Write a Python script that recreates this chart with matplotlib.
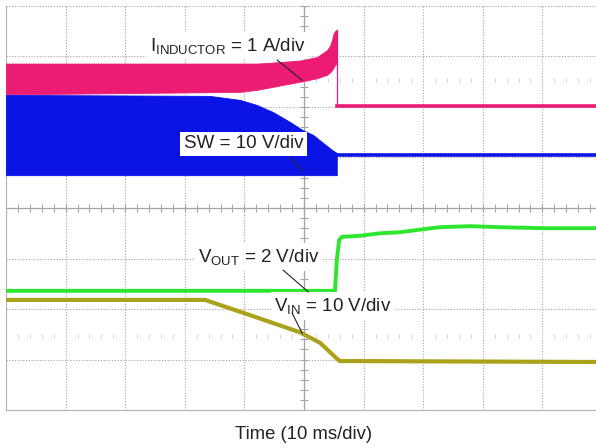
import matplotlib
matplotlib.use("Agg")
import matplotlib.pyplot as plt
import numpy as np

plt.rcParams['font.family'] = ['Liberation Sans', 'DejaVu Sans']
plt.rcParams['mathtext.default'] = 'regular'

# ---- data (time in ms, 10 ms/div; amplitude in screen divisions 0..8) ----
# Inductor current switching band (envelopes) before shutdown
ind_t = [0, 39.3, 42.1, 44.8, 49.3, 49.8, 52.2, 53.9, 54.4, 54.7, 55.0, 55.2, 55.4, 55.5]
ind_hi = [6.86, 6.86, 6.86, 6.88, 6.92, 6.93, 6.99, 7.13, 7.22, 7.33, 7.47, 7.50, 7.52, 7.52]
ind_lo = [6.25, 6.30, 6.34, 6.40, 6.50, 6.51, 6.57, 6.64, 6.69, 6.73, 6.79, 6.83, 6.85, 6.85]
# Inductor current after shutdown
ind_post_t = [55.5, 100.0]
ind_post = [6.02, 6.02]

# SW node switching band (envelopes) before shutdown
sw_t = [0, 34.2, 39.3, 42.1, 44.8, 47.7, 49.8, 51.5, 53.2, 54.7, 55.5]
sw_hi = [6.24, 6.22, 6.14, 6.04, 5.90, 5.70, 5.54, 5.45, 5.29, 5.15, 5.09]
sw_lo = [4.65, 4.65, 4.65, 4.65, 4.65, 4.65, 4.65, 4.65, 4.65, 4.65, 4.65]
sw_post_t = [55.5, 100.0]
sw_post = [5.04, 5.04]

# Output voltage
vout_t = [0, 55.2, 55.5, 55.9, 56.4, 59.4, 62.8, 66.1, 70.0, 72.8, 77.9, 82.9, 90.1, 100.0]
vout = [2.36, 2.36, 2.97, 3.37, 3.43, 3.45, 3.50, 3.52, 3.58, 3.62, 3.64, 3.62, 3.60, 3.60]

# Input voltage
vin_t = [0, 33.4, 40.9, 49.3, 52.7, 55.4, 56.0, 100.0]
vin = [2.18, 2.18, 1.88, 1.54, 1.33, 1.03, 0.97, 0.95]

C_IND = '#EC1C74'
C_SW = '#0A14E4'
C_VOUT = '#2EE62E'
C_VIN = '#ABA21B'
C_GRID = '#a4a4a4'

fig = plt.figure(figsize=(5.96, 4.48), dpi=100)
ax = fig.add_axes([6 / 596, (448 - 410) / 448, 596 / 596, 404 / 448])
ax.set_xlim(0, 100)
ax.set_ylim(0, 8)

# grid
ax.set_xticks(np.arange(0, 101, 10))
ax.set_yticks(np.arange(0, 9, 1))
ax.tick_params(length=0, labelbottom=False, labelleft=False)
ax.grid(True, linestyle=(0, (1, 1.5)), color=C_GRID, linewidth=0.8)
ax.set_axisbelow(True)
for s in ['top', 'right']:
    ax.spines[s].set_visible(False)
for s in ['left', 'bottom']:
    ax.spines[s].set_color('#b4b4b4')
    ax.spines[s].set_linewidth(0.8)

# center cross with ticks
ax.axhline(4, color=C_GRID, lw=0.9, zorder=1)
ax.axvline(50, color=C_GRID, lw=0.9, zorder=1)
mx = np.arange(0, 100.1, 2)
my = np.arange(0, 8.01, 0.2)
ax.plot(mx, np.full_like(mx, 4.0), ls='none', marker='|', ms=6, mew=0.8, color=C_GRID, zorder=1)
ax.plot(np.full_like(my, 50.0), my, ls='none', marker='_', ms=6, mew=0.8, color=C_GRID, zorder=1)
# faint marker rows
for yy in (6.53, 1.47):
    ax.plot(mx, np.full_like(mx, yy), ls='none', marker='|', ms=3, mew=0.7, color='#d2d2d2', zorder=1)

# traces
ax.fill_between(ind_t, ind_lo, ind_hi, color=C_IND, lw=0.6, edgecolor=C_IND, zorder=3)
ax.plot([ind_t[-1], ind_t[-1]], [ind_post[0], ind_hi[-1]], color=C_IND, lw=0.9, zorder=3)
ax.plot(ind_post_t, ind_post, color=C_IND, lw=2.6, zorder=3)

ax.fill_between(sw_t, sw_lo, sw_hi, color=C_SW, lw=0.6, edgecolor=C_SW, zorder=4)
ax.plot(sw_post_t, sw_post, color=C_SW, lw=2.6, zorder=4)

ax.plot(vout_t, vout, color=C_VOUT, lw=2.8, zorder=4)
ax.plot(vin_t, vin, color=C_VIN, lw=3.0, zorder=4)

# labels
fs = 13.5
box = dict(facecolor='white', edgecolor='none', pad=2.5)
ax.text(50.3, 7.21, 'I$_{INDUCTOR}$ = 1 A/div', ha='right', va='center', fontsize=fs,
        color='#222222', bbox=box, zorder=5)
ax.text(49.9, 5.27, 'SW = 10 V/div', ha='right', va='center', fontsize=fs,
        color='#222222', bbox=box, zorder=5)
ax.text(52.6, 3.03, 'V$_{OUT}$ = 2 V/div', ha='right', va='center', fontsize=fs,
        color='#222222', bbox=box, zorder=5)
ax.text(64.7, 2.06, 'V$_{IN}$ = 10 V/div', ha='right', va='center', fontsize=fs,
        color='#222222', bbox=box, zorder=5)

# leader lines
for (x0, y0, x1, y1) in [(45.5, 6.93, 49.7, 6.53), (47.7, 4.99, 49.7, 4.75),
                         (46.5, 2.77, 50.7, 2.34), (48.0, 1.92, 49.7, 1.52)]:
    ax.plot([x0, x1], [y0, y1], color='#222222', lw=0.8, zorder=6)

fig.text(304 / 596, 1 - 434 / 448, 'Time (10 ms/div)', ha='center', va='center',
         fontsize=13.3, color='#222222')

fig.savefig('out.png', dpi=100)
